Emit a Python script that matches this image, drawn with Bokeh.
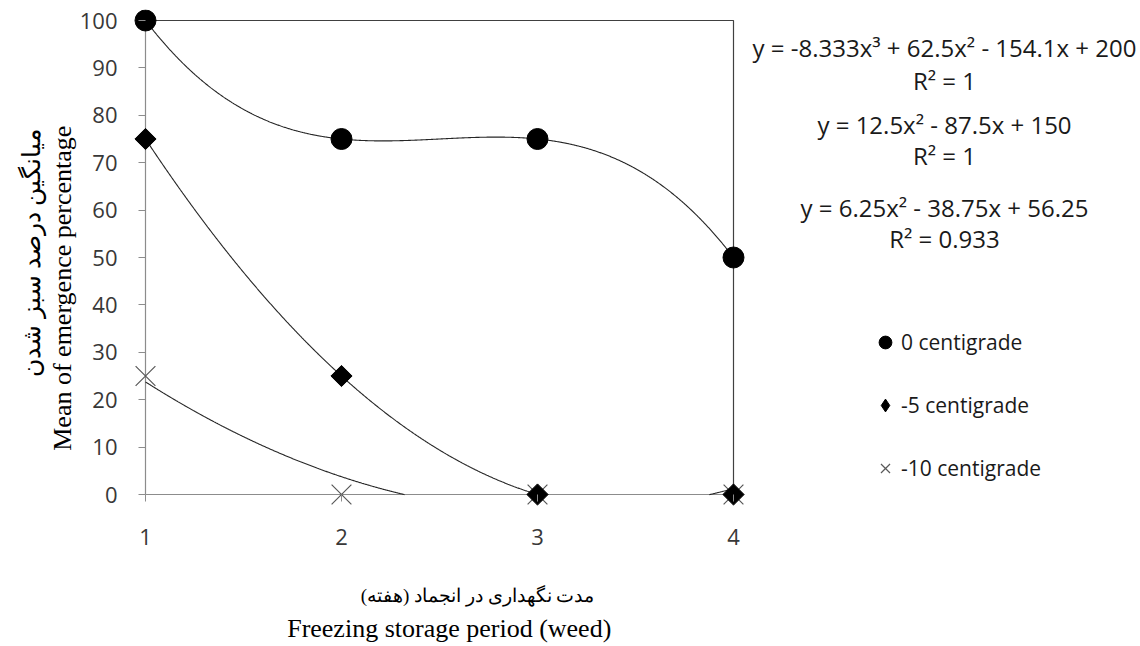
import numpy as np
from bokeh.plotting import figure
from bokeh.layouts import row
from bokeh.models import Range1d, Legend, LegendItem, Label, FixedTicker, LinearAxis
from bokeh.embed import file_html
from bokeh.resources import INLINE

# ---------------- data ----------------
weeks = [1, 2, 3, 4]
emergence_0c = [100, 75, 75, 50]
emergence_m5c = [75, 25, 0, 0]
emergence_m10c = [25, 0, 0, 0]
series_labels = ["0 centigrade", "-5 centigrade", "-10 centigrade"]
trend_degrees = [3, 2, 2]
trend_equations = ["y = -8.333x³ + 62.5x² - 154.1x + 200",
                   "y = 12.5x² - 87.5x + 150",
                   "y = 6.25x² - 38.75x + 56.25"]
trend_r2 = ["R² = 1", "R² = 1", "R² = 0.933"]
x_ticks = [1, 2, 3, 4]
y_ticks = [0, 10, 20, 30, 40, 50, 60, 70, 80, 90, 100]
x_title_fa = "مدت نگهداری در انجماد (هفته)"
x_title_en = "Freezing storage period (weed)"
y_title_fa = "میانگین درصد سبز شدن"
y_title_en = "Mean of emergence percentage"

# ---------------- layout (pixels) ----------------
PX_X = 196.0          # pixels per week
PX_Y = 4.74           # pixels per percent
PAD_L, PAD_R, PAD_T, PAD_B = 14, 14, 11, 14
FRAME_W = int(PX_X * (x_ticks[-1] - x_ticks[0])) + PAD_L + PAD_R
FRAME_H = int(round(PX_Y * (y_ticks[-1] - y_ticks[0]))) + PAD_T + PAD_B
LEFT, TOP, RIGHT = 131, 9, 3
TOTAL_W, TOTAL_H = 1140, 646
BOTTOM = TOTAL_H - TOP - FRAME_H
MAIN_W = LEFT + FRAME_W + RIGHT
SIDE_W = TOTAL_W - MAIN_W
TICK_FONT = "Open Sans"
TITLE_FONT = "Liberation Serif"
AXIS_GRAY = "#8c8c8c"
BOX_COLOR = "#404040"
NB, RLM = "\u00a0", "\u200f"

p = figure(frame_width=FRAME_W, frame_height=FRAME_H,
           x_range=Range1d(x_ticks[0] - PAD_L / PX_X, x_ticks[-1] + PAD_R / PX_X),
           y_range=Range1d(y_ticks[0] - PAD_B / PX_Y, y_ticks[-1] + PAD_T / PX_Y),
           output_backend="svg", toolbar_location=None,
           min_border_left=LEFT, min_border_right=RIGHT, min_border_top=TOP,
           min_border_bottom=BOTTOM)
p.outline_line_color = None
p.grid.visible = False
p.background_fill_color = "white"
p.border_fill_color = "white"

for ax, ticks in ((p.xaxis[0], x_ticks), (p.yaxis[0], y_ticks)):
    ax.ticker = FixedTicker(ticks=ticks)
    ax.axis_line_color = None
    ax.major_tick_line_color = AXIS_GRAY
    ax.minor_tick_line_color = None
    ax.minor_tick_in = 0
    ax.minor_tick_out = 0
    # ticks sit on the data axis (inside the padded frame), pointing outwards
    ax.major_tick_in = 14
    ax.major_tick_out = -7
    ax.major_label_text_font = TICK_FONT
    ax.major_label_text_font_size = "22px"
    ax.major_label_text_color = "#383838"
    ax.axis_label_text_font_style = "normal"
    ax.axis_label_text_color = "black"

# first title lines on the main axes
p.xaxis[0].axis_label = RLM + x_title_fa + NB * 16 + RLM
p.xaxis[0].axis_label_text_font = TITLE_FONT
p.xaxis[0].axis_label_text_font_size = "19px"
p.xaxis[0].major_label_standoff = 20
p.xaxis[0].axis_label_standoff = 37

p.yaxis[0].axis_label = y_title_en + NB * 9
p.yaxis[0].axis_label_text_font = TITLE_FONT
p.yaxis[0].axis_label_text_font_size = "26px"
p.yaxis[0].major_label_standoff = 14
p.yaxis[0].axis_label_standoff = 0


def title_axis(text, size, standoff):
    return LinearAxis(ticker=FixedTicker(ticks=[]), axis_label=text,
                      axis_line_color=None, major_tick_line_color=None, minor_tick_line_color=None,
                      major_tick_in=0, major_tick_out=0, minor_tick_in=0, minor_tick_out=0,
                      major_label_text_font_size="0px", major_label_standoff=0,
                      axis_label_text_font=TITLE_FONT, axis_label_text_font_size=size,
                      axis_label_text_font_style="normal", axis_label_text_color="black",
                      axis_label_standoff=standoff)


# second title lines on extra, tick-less axes
p.add_layout(title_axis(NB * 3 + x_title_en, "26px", 5), "below")
p.add_layout(title_axis(RLM + y_title_fa + NB * 2 + RLM, "25px", 0), "left")

# axis lines at the data origin, plus top and right edges of the plot box
p.line([x_ticks[0], x_ticks[0]], [y_ticks[0], y_ticks[-1]], line_color=AXIS_GRAY, line_width=1.2)
p.line([x_ticks[0], x_ticks[-1]], [y_ticks[0], y_ticks[0]], line_color=AXIS_GRAY, line_width=1.2)
p.line([x_ticks[0], x_ticks[-1], x_ticks[-1]], [y_ticks[-1], y_ticks[-1], y_ticks[0]],
       line_color=BOX_COLOR, line_width=1.2)

# trend lines (polynomial fits of each series), hidden below the axis like the source
xs = np.linspace(weeks[0], weeks[-1], 900)
for ys, deg in zip((emergence_0c, emergence_m5c, emergence_m10c), trend_degrees):
    coef = np.polyfit(weeks, ys, deg)
    fit = np.polyval(coef, xs)
    fit = np.where(fit >= -0.05, fit, np.nan)
    p.line(xs, fit, line_color="#262626", line_width=1.1)

# markers
styles = [dict(marker="circle", size=21, fill_color="black", line_color="black"),
          dict(marker="square", angle=np.pi / 4, size=15, fill_color="black", line_color="black"),
          dict(marker="x", size=28, line_color="#595959", line_width=1.2)]
series = [emergence_0c, emergence_m5c, emergence_m10c]
for ys, st in zip(series[::-1], styles[::-1]):
    p.scatter(weeks, ys, **st)

# ---------------- right-hand panel: equations and legend ----------------
s = figure(frame_width=SIDE_W, frame_height=FRAME_H,
           x_range=Range1d(MAIN_W, TOTAL_W), y_range=Range1d(TOP + FRAME_H, TOP),
           x_axis_type=None, y_axis_type=None, output_backend="svg", toolbar_location=None,
           min_border_left=0, min_border_right=0, min_border_top=TOP, min_border_bottom=BOTTOM)
s.outline_line_color = None
s.grid.visible = False
s.background_fill_color = "white"
s.border_fill_color = "white"

legend_styles = [styles[0], dict(marker="diamond", fill_color="black", line_color="black"),
                 dict(marker="x", line_color="#595959", line_width=1.2)]
proxies = []
for ys, st in zip(series, legend_styles):
    proxies.append(s.scatter(weeks, ys, visible=False, **st))

GLYPH_W, GLYPH_H, ROW_GAP = 32, 36, 27
LEG_CX, LEG_TOP = 885, 324
legend = Legend(items=[LegendItem(label=lab, renderers=[r]) for lab, r in zip(series_labels, proxies)],
                location=(LEG_CX - GLYPH_W // 2 - MAIN_W,
                          TOP + FRAME_H - (LEG_TOP + 3 * GLYPH_H + 2 * ROW_GAP)),
                orientation="vertical",
                glyph_width=GLYPH_W, glyph_height=GLYPH_H, label_height=GLYPH_H, spacing=ROW_GAP,
                padding=0, margin=0, label_standoff=0,
                border_line_color=None, background_fill_alpha=0, inactive_fill_alpha=0,
                label_text_font=TICK_FONT, label_text_font_size="21px",
                label_text_color="#1a1a1a")
s.add_layout(legend, "center")

EQ_X = 944
eq_rows = [47, 80, 124, 155, 207, 238]
texts = []
for e, r2 in zip(trend_equations, trend_r2):
    texts += [e, r2]
for t, yy in zip(texts, eq_rows):
    s.add_layout(Label(x=EQ_X, y=yy, text=t, text_align="center", text_baseline="middle",
                       text_font=TICK_FONT, text_font_size="24px", text_color="#1a1a1a"))

layout = row(p, s)
open("out.html", "w").write(file_html(layout, INLINE))
